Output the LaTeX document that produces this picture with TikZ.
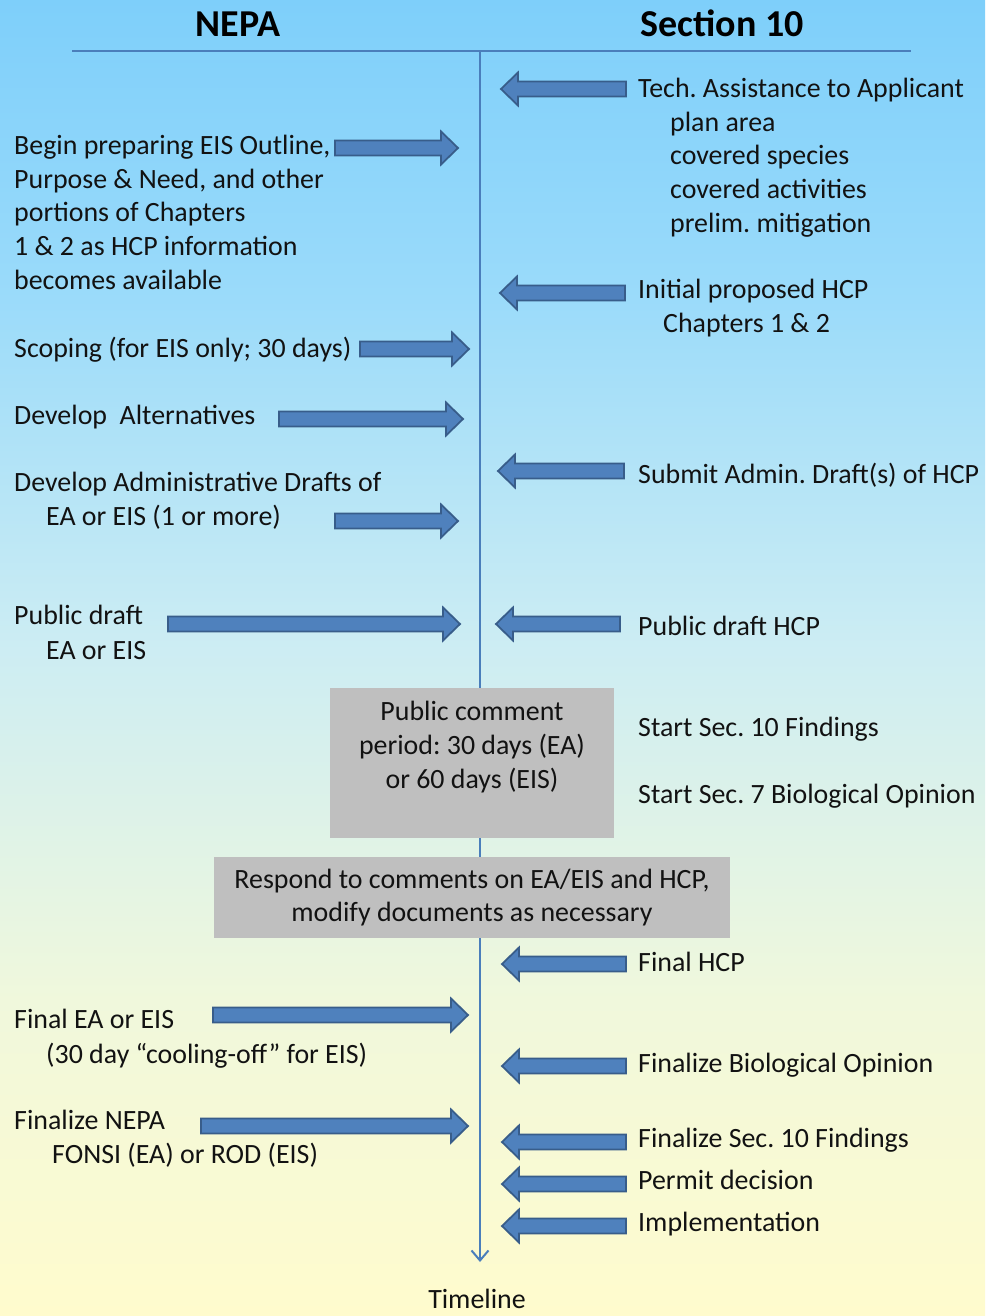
\documentclass[tikz,border=0pt]{standalone}
\usepackage{fontspec}
\setmainfont{Carlito}
\frenchspacing
\usetikzlibrary{calc,arrows.meta}
\definecolor{arrowfill}{RGB}{79,129,189}
\definecolor{arrowborder}{RGB}{56,93,138}
\definecolor{lineblue}{RGB}{74,126,187}
\definecolor{boxgray}{RGB}{191,191,191}
\definecolor{txtcol}{RGB}{18,18,18}
\definecolor{bgtop}{RGB}{126,207,250}
\definecolor{bgu}{RGB}{155,219,250}
\definecolor{bgm}{RGB}{205,237,243}
\definecolor{bgl}{RGB}{240,248,220}
\definecolor{bgbot}{RGB}{255,251,205}
\pgfdeclareverticalshading{bgshade}{100bp}{color(0bp)=(bgbot); color(25bp)=(bgbot); color(37bp)=(bgl); color(50.3bp)=(bgm); color(63.6bp)=(bgu); color(75bp)=(bgtop); color(100bp)=(bgtop)}
\tikzset{
  txt/.style={anchor=base west, inner sep=0pt, align=left, text=txtcol,
    font=\fontsize{27.9}{33.6}\selectfont},
  ctxt/.style={txt, anchor=base, align=center},
  hdr/.style={anchor=base, inner sep=0pt, text=black,
    font=\fontsize{38}{44}\selectfont\bfseries},
  barrow/.style={fill=arrowfill, draw=arrowborder, line width=1.8pt, line join=miter},
  graybox/.style={fill=boxgray, draw=none, inner sep=0pt},
  timeline/.style={draw=lineblue, line width=2.2pt},
}
% multi-line nodes below are placed by the baseline of their LAST line
\newcommand\blockarrow[2]{%
  \path[barrow] let \p1=(#1), \p2=(#2), \n1={ifthenelse(\x2>\x1,-17,17)} in
  (\x1,\y1+7.5pt) -- (\x2+\n1*1pt,\y1+7.5pt) -- (\x2+\n1*1pt,\y1+16.5pt) -- (\x2,\y1)
  -- (\x2+\n1*1pt,\y1-16.5pt) -- (\x2+\n1*1pt,\y1-7.5pt) -- (\x1,\y1-7.5pt) -- cycle;}
\begin{document}
\begin{tikzpicture}[x=1pt,y=-1pt]
\useasboundingbox (0,0) rectangle (985,1316);
\shade[shading=bgshade] (0,0) rectangle (985,1316);

% header
\node[hdr] (nepa) at (238,37) {NEPA};
\node[hdr] (sec10) at (722,37) {Section 10};
\coordinate (hl) at (72,51);
\coordinate (hr) at (911,51);
\draw[timeline] (hl) -- (hr);

% timeline
\coordinate (tltop) at (480,51);
\coordinate (tlend) at (480,1262);
\draw[timeline, -{Straight Barb[length=10pt,width=17pt,line width=2pt]}] (tltop) -- (tlend);
\node[ctxt] (timeline) at (477,1308) {Timeline};

% gray boxes
\node[graybox, minimum width=284, minimum height=150] (pcbox) at (472,763) {};
\node[ctxt] (pctext) at (472,788) {Public comment\\period: 30 days (EA)\\or 60 days (EIS)};
\node[graybox, minimum width=516, minimum height=81, align=center, text=txtcol,
  font=\fontsize{27.9}{33.6}\selectfont] (resp) at (472,897.5)
  {Respond to comments on EA/EIS and HCP,\\modify documents as necessary};

% NEPA side
\node[txt] (n1) at (14,289) {Begin preparing EIS Outline,\\Purpose \& Need, and other\\portions of Chapters\\1 \& 2 as HCP information\\becomes available};
\node[txt] (n2) at (14,357) {Scoping (for EIS only; 30 days)};
\node[txt] (n3) at (14,424) {Develop\ \ Alternatives};
\node[txt] (n4) at (14,525) {Develop Administrative Drafts of\\\hspace*{32pt}EA or EIS (1 or more)};
\node[txt] (n5) at (14,659) {Public draft\\[1.4pt]\hspace*{32pt}EA or EIS};
\node[txt] (n6) at (14,1063) {Final EA or EIS\\[1.4pt]\hspace*{32pt}(30 day “cooling-off” for EIS)};
\node[txt] (n7) at (14,1163) {Finalize NEPA\\\hspace*{38pt}FONSI (EA) or ROD (EIS)};

\coordinate (la1) at (335,148);  \coordinate (lb1) at (458,148);
\coordinate (la2) at (360,349);  \coordinate (lb2) at (469,349);
\coordinate (la3) at (279,419);  \coordinate (lb3) at (463,419);
\coordinate (la4) at (335,521);  \coordinate (lb4) at (458,521);
\coordinate (la5) at (168,624);  \coordinate (lb5) at (460,624);
\coordinate (la6) at (213,1015); \coordinate (lb6) at (468,1015);
\coordinate (la7) at (201,1126); \coordinate (lb7) at (468,1126);
\foreach \i in {1,...,7}{\blockarrow{la\i}{lb\i}}

% Section 10 side
\node[txt] (s1) at (638,232) {Tech. Assistance to Applicant\\\hspace*{32pt}plan area\\\hspace*{32pt}covered species\\\hspace*{32pt}covered activities\\\hspace*{32pt}prelim. mitigation};
\node[txt] (s2) at (638,332) {Initial proposed HCP\\\hspace*{25pt}Chapters 1 \& 2};
\node[txt] (s3) at (638,483) {Submit Admin. Draft(s) of HCP};
\node[txt] (s4) at (638,635) {Public draft HCP};
\node[txt] (s5) at (638,736) {Start Sec. 10 Findings};
\node[txt] (s6) at (638,803) {Start Sec. 7 Biological Opinion};
\node[txt] (s7) at (638,971) {Final HCP};
\node[txt] (s8) at (638,1072) {Finalize Biological Opinion};
\node[txt] (s9) at (638,1147) {Finalize Sec. 10 Findings};
\node[txt] (s10) at (638,1189) {Permit decision};
\node[txt] (s11) at (638,1231) {Implementation};

\coordinate (ra1) at (626,89);   \coordinate (rb1) at (501,89);
\coordinate (ra2) at (625,293);  \coordinate (rb2) at (500,293);
\coordinate (ra3) at (624,471);  \coordinate (rb3) at (498,471);
\coordinate (ra4) at (620,624);  \coordinate (rb4) at (496,624);
\coordinate (ra5) at (626,964);  \coordinate (rb5) at (502,964);
\coordinate (ra6) at (626,1066); \coordinate (rb6) at (502,1066);
\coordinate (ra7) at (626,1142); \coordinate (rb7) at (502,1142);
\coordinate (ra8) at (626,1184); \coordinate (rb8) at (502,1184);
\coordinate (ra9) at (626,1226); \coordinate (rb9) at (502,1226);
\foreach \i in {1,...,9}{\blockarrow{ra\i}{rb\i}}
\end{tikzpicture}
\end{document}
